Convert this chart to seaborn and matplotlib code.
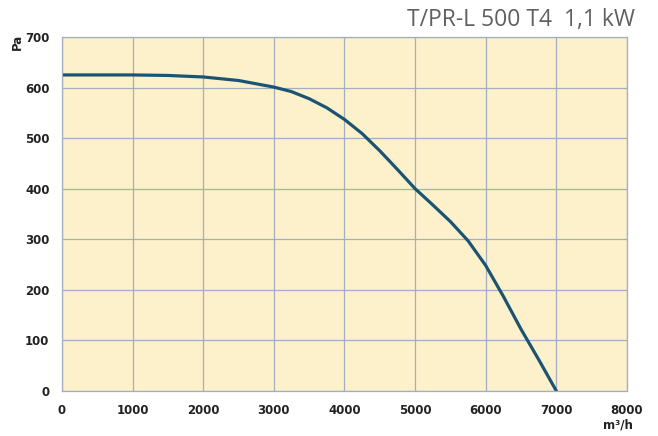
import numpy as np
import pandas as pd
import seaborn as sns
import matplotlib.pyplot as plt

# fan curve
airflow = [0, 500, 1000, 1500, 2000, 2500, 3000, 3250, 3500, 3750, 4000, 4250,
           4500, 4750, 5000, 5250, 5500, 5750, 6000, 6250, 6500, 6750, 7000]
pressure = [625, 625, 625, 624, 621, 614, 601, 592, 578, 560, 537, 509,
            475, 438, 400, 368, 335, 297, 248, 187, 122, 62, 0]

x_ticks = [0, 1000, 2000, 3000, 4000, 5000, 6000, 7000, 8000]
y_ticks = [0, 100, 200, 300, 400, 500, 600, 700]

df = pd.DataFrame({'airflow': airflow, 'pressure': pressure})

sns.set_style('white')
plt.rcParams['font.family'] = ['DejaVu Sans']

fig = plt.figure(figsize=(6.58, 4.36), dpi=100)
ax = fig.add_axes([0.0942, 0.1032, 0.8587, 0.8119])
ax.set_facecolor('#fdf1cc')

sns.lineplot(data=df, x='airflow', y='pressure', ax=ax, color='#1b5472', linewidth=2.3)

ax.set_xlim(0, 8000)
ax.set_ylim(0, 700)
ax.set_xticks(x_ticks)
ax.set_yticks(y_ticks)
ax.set_xticklabels([str(t) for t in x_ticks], fontsize=8.5, fontweight='bold', color='#222222')
ax.set_yticklabels([str(t) for t in y_ticks], fontsize=8.5, fontweight='bold', color='#222222')
ax.tick_params(length=0, pad=9)
ax.grid(True, color='#a3afbf', linewidth=0.9)
ax.set_axisbelow(True)
for s in ax.spines.values():
    s.set_color('#a3afbf')
    s.set_linewidth(0.9)
ax.set_xlabel('')
ax.set_ylabel('')

fig.text(0.027, 0.905, 'Pa', rotation=90, fontsize=8.5, fontweight='bold', color='#222222',
         ha='center', va='center')
fig.text(0.917, 0.025, 'm³/h', fontsize=8.5, fontweight='bold', color='#222222',
         ha='left', va='center')
fig.text(0.965, 0.955, 'T/PR-L 500 T4  1,1 kW', fontsize=16.5, color='#606060',
         family='Open Sans', ha='right', va='center')

fig.savefig('out.png', dpi=100)
